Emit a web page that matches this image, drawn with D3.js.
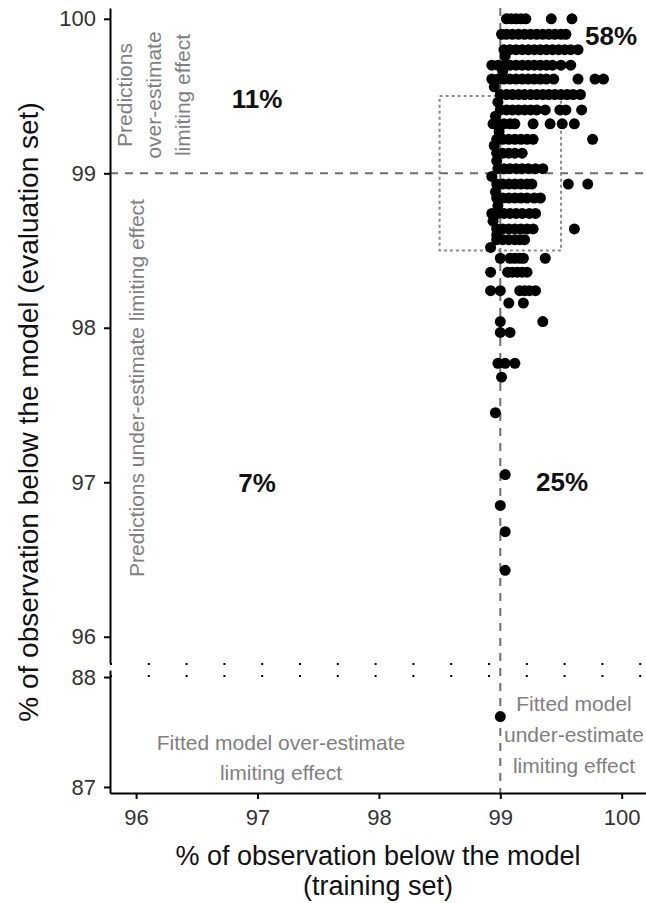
<!DOCTYPE html>
<html>
<head>
<meta charset="utf-8">
<script src="https://cdn.jsdelivr.net/npm/d3@7"></script>
<style>
  body { margin: 0; background: #fff; }
  svg { display: block; font-family: "Liberation Sans", Arial, sans-serif; }
</style>
</head>
<body>
<svg id="Diagram"></svg>
<script>
// tick labels
var xTicks = [96, 97, 98, 99, 100];
var yTicksUpper = [96, 97, 98, 99, 100];
var yTicksLower = [87, 88];

// evaluation-set levels (rows) and the training-set values found on each row
var evalLevels = [100.0, 99.9, 99.8, 99.7, 99.61, 99.51, 99.41, 99.32, 99.22, 99.13,
    99.03, 98.93, 98.84, 98.74, 98.64, 98.57, 98.45, 98.36, 98.24, 98.16,
    98.04, 97.97, 97.77, 97.68, 97.45, 97.05, 96.85, 96.68, 96.43];
var trainByLevel = [
    [99.05, 99.09, 99.13, 99.17, 99.21, 99.42, 99.59],
    [99.01, 99.05, 99.1, 99.15, 99.2, 99.25, 99.3, 99.35, 99.4, 99.45, 99.5, 99.54],
    [99.03, 99.08, 99.13, 99.18, 99.23, 99.28, 99.33, 99.38, 99.43, 99.48, 99.53, 99.58, 99.64],
    [98.93, 98.98, 99.03, 99.08, 99.13, 99.18, 99.23, 99.28, 99.33, 99.38, 99.43, 99.5, 99.58],
    [98.93, 98.98, 99.03, 99.08, 99.13, 99.18, 99.23, 99.28, 99.33, 99.38, 99.44, 99.64, 99.78, 99.85],
    [99.0, 99.05, 99.1, 99.15, 99.2, 99.25, 99.3, 99.35, 99.4, 99.45, 99.5, 99.55, 99.6, 99.66],
    [99.0, 99.05, 99.1, 99.15, 99.2, 99.25, 99.3, 99.37, 99.49, 99.54, 99.67],
    [98.94, 98.98, 99.03, 99.08, 99.12, 99.27, 99.41, 99.51, 99.61],
    [98.97, 99.02, 99.07, 99.12, 99.17, 99.22, 99.27, 99.76],
    [98.97, 99.02, 99.07, 99.12, 99.18],
    [98.98, 99.03, 99.08, 99.13, 99.18, 99.23, 99.29, 99.35],
    [98.97, 99.02, 99.07, 99.12, 99.17, 99.22, 99.26, 99.56, 99.72],
    [98.97, 99.02, 99.07, 99.12, 99.17, 99.22, 99.28, 99.33],
    [98.93, 98.98, 99.03, 99.08, 99.13, 99.18, 99.24, 99.29],
    [98.97, 99.02, 99.07, 99.12, 99.17, 99.22, 99.27, 99.61],
    [98.97, 99.02, 99.07, 99.12, 99.16, 99.2],
    [99.0, 99.08, 99.12, 99.16, 99.19, 99.37],
    [98.92, 99.06, 99.1, 99.14, 99.18, 99.22],
    [98.92, 99.0, 99.16, 99.2, 99.24, 99.29],
    [99.07, 99.19],
    [99.0, 99.35],
    [99.0, 99.08],
    [98.98, 99.04, 99.12],
    [99.01],
    [98.96],
    [99.04],
    [99.0],
    [99.04],
    [99.04]
];
// points sitting between the rows along the 99 line
var extraTrain = [99.02, 99.04, 98.95, 98.98, 98.96, 98.99, 98.95, 98.97, 98.93, 98.96, 98.98, 98.94, 98.97, 98.92];
var extraEval = [99.66, 99.76, 99.56, 99.46, 99.37, 99.27, 99.18, 99.08, 98.98, 98.88, 98.79, 98.69, 98.6, 98.52];
// the single outlier shown below the axis break
var lowTrain = [99.0];
var lowEval = [87.64];

var quadrantLabels = ["58%", "11%", "7%", "25%"];

var width = 646, height = 903;
var gridGrey = "#6e6e6e", noteGrey = "#808080";

var svg = d3.select("#Diagram").attr("width", width).attr("height", height);

// scales: one x, two y panels (upper and lower of the break)
var x = d3.scaleLinear().domain([95.785, 100.2]).range([110, 646]);
var yUp = d3.scaleLinear().domain([95.83, 100.07]).range([663, 8]);
var yLow = d3.scaleLinear().domain([86.945, 88.064]).range([793, 670]);

// reference lines at 99
svg.append("line")
    .attr("x1", 110).attr("x2", 646)
    .attr("y1", yUp(99)).attr("y2", yUp(99))
    .attr("stroke", gridGrey).attr("stroke-width", 2).attr("stroke-dasharray", "8,7");
svg.append("line")
    .attr("x1", x(99)).attr("x2", x(99))
    .attr("y1", 8).attr("y2", 793)
    .attr("stroke", gridGrey).attr("stroke-width", 2).attr("stroke-dasharray", "8,7");

// dotted box 98.5 - 99.5
svg.append("rect")
    .attr("x", x(98.5)).attr("y", yUp(99.5))
    .attr("width", x(99.5) - x(98.5)).attr("height", yUp(98.5) - yUp(99.5))
    .attr("fill", "none").attr("stroke", "#8a8a8a").attr("stroke-width", 2)
    .attr("stroke-dasharray", "3,3");

// break markers
[664, 676].forEach(function(yy) {
    svg.append("line")
        .attr("x1", 110).attr("x2", 646).attr("y1", yy).attr("y2", yy)
        .attr("stroke", "#000").attr("stroke-width", 2)
        .attr("stroke-dasharray", "2,35.8");
});

// points
var points = [];
evalLevels.forEach(function(ev, i) {
    trainByLevel[i].forEach(function(tr) { points.push({train: tr, eval: ev, low: false}); });
});
extraTrain.forEach(function(tr, i) { points.push({train: tr, eval: extraEval[i], low: false}); });
lowTrain.forEach(function(tr, i) { points.push({train: tr, eval: lowEval[i], low: true}); });

svg.append("g")
    .selectAll("circle")
    .data(points)
    .enter()
    .append("circle")
    .attr("cx", function(d) { return x(d.train); })
    .attr("cy", function(d) { return d.low ? yLow(d.eval) : yUp(d.eval); })
    .attr("r", 5.5)
    .attr("fill", "#000");

// axes
function styleAxis(g) {
    g.selectAll(".domain").attr("stroke", "#000").attr("stroke-width", 2);
    g.selectAll(".tick line").attr("stroke", "#000").attr("stroke-width", 2);
    g.selectAll(".tick text").attr("fill", "#333").style("font-size", "22px")
        .style("font-family", "Liberation Sans, Arial, sans-serif");
}

svg.append("g")
    .attr("transform", "translate(110,0)")
    .call(d3.axisLeft(yUp).tickValues(yTicksUpper).tickFormat(d3.format("d"))
        .tickSize(6).tickSizeOuter(0).tickPadding(8))
    .call(styleAxis);
svg.append("g")
    .attr("transform", "translate(110,0)")
    .call(d3.axisLeft(yLow).tickValues(yTicksLower).tickFormat(d3.format("d"))
        .tickSize(6).tickSizeOuter(0).tickPadding(8))
    .call(styleAxis);
svg.append("g")
    .attr("transform", "translate(0,793)")
    .call(d3.axisBottom(x).tickValues(xTicks).tickFormat(d3.format("d"))
        .tickSize(6).tickSizeOuter(0).tickPadding(10))
    .call(styleAxis);

// axis titles
svg.append("text")
    .attr("transform", "translate(28,412) rotate(-90)")
    .attr("text-anchor", "middle").attr("dominant-baseline", "central")
    .style("font-size", "28px").attr("fill", "#111")
    .text("% of observation below the model (evaluation set)");
svg.append("text")
    .attr("x", 378).attr("y", 865).attr("text-anchor", "middle")
    .style("font-size", "27px").attr("fill", "#111")
    .text("% of observation below the model");
svg.append("text")
    .attr("x", 378).attr("y", 895).attr("text-anchor", "middle")
    .style("font-size", "27px").attr("fill", "#111")
    .text("(training set)");

// quadrant percentages
var pctPos = [[611, 36], [257, 99], [257, 483], [562, 482]];
quadrantLabels.forEach(function(t, i) {
    svg.append("text")
        .attr("x", pctPos[i][0]).attr("y", pctPos[i][1])
        .attr("text-anchor", "middle").attr("dominant-baseline", "central")
        .style("font-size", "26px").style("font-weight", "bold").attr("fill", "#111")
        .text(t);
});

// grey notes
function note(lines, cx, ys, rotate) {
    lines.forEach(function(t, i) {
        var el = svg.append("text")
            .attr("text-anchor", "middle").attr("dominant-baseline", "central")
            .style("font-size", "21px").attr("fill", noteGrey)
            .text(t);
        if (rotate) el.attr("transform", "translate(" + cx[i] + "," + ys + ") rotate(-90)");
        else el.attr("x", cx).attr("y", ys[i]);
    });
}
note(["Predictions", "over-estimate", "limiting effect"], [124, 153, 182], 95, true);
note(["Predictions under-estimate limiting effect"], [136], 388, true);
note(["Fitted model over-estimate", "limiting effect"], 281, [742, 772], false);
note(["Fitted model", "under-estimate", "limiting effect"], 574, [703, 734, 765], false);
</script>
</body>
</html>
